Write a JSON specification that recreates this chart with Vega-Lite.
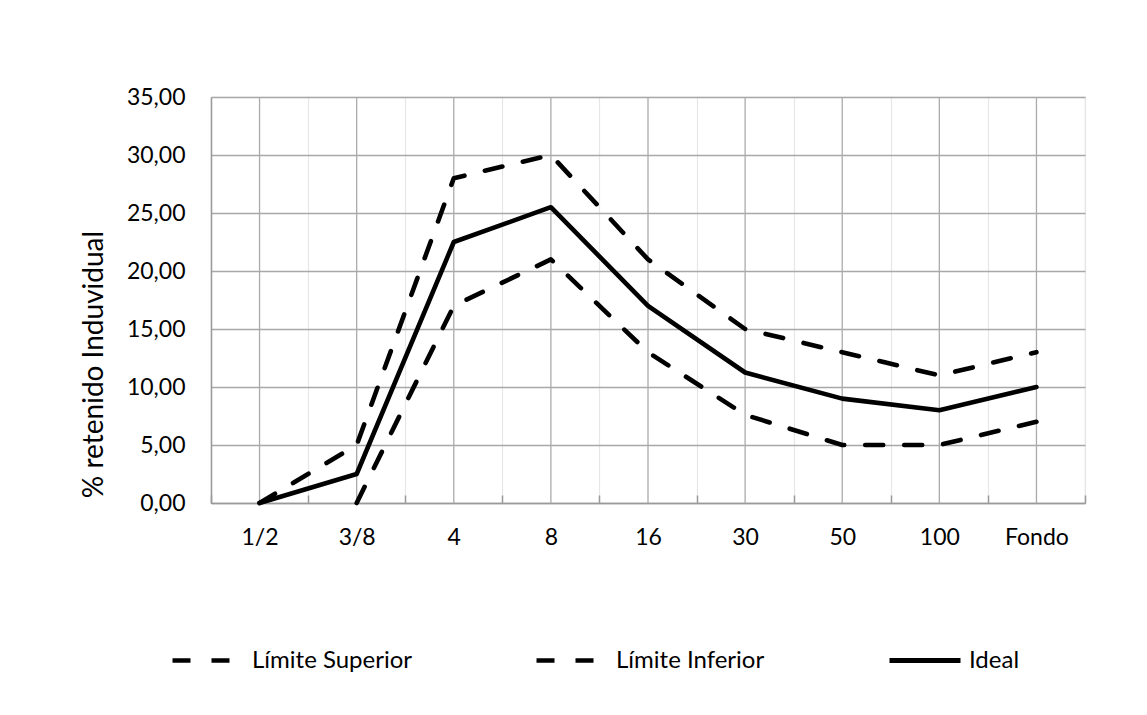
{
  "$schema": "https://vega.github.io/schema/vega-lite/v6.json",
  "autosize": "none",
  "width": 874,
  "height": 406,
  "padding": {"left": 211, "top": 97, "right": 62, "bottom": 212},
  "background": "white",
  "config": {
    "font": "Lato",
    "view": {"stroke": "#e2e2e2", "strokeWidth": 1.2},
    "legend": {"padding": 0, "labelLimit": 300}
  },
  "data": {
    "values": [
      {"tamiz": "1/2", "serie": "Límite Superior", "valor": 0},
      {"tamiz": "3/8", "serie": "Límite Superior", "valor": 5},
      {"tamiz": "4", "serie": "Límite Superior", "valor": 28},
      {"tamiz": "8", "serie": "Límite Superior", "valor": 30},
      {"tamiz": "16", "serie": "Límite Superior", "valor": 21},
      {"tamiz": "30", "serie": "Límite Superior", "valor": 15},
      {"tamiz": "50", "serie": "Límite Superior", "valor": 13},
      {"tamiz": "100", "serie": "Límite Superior", "valor": 11},
      {"tamiz": "Fondo", "serie": "Límite Superior", "valor": 13},
      {"tamiz": "3/8", "serie": "Límite Inferior", "valor": 0},
      {"tamiz": "4", "serie": "Límite Inferior", "valor": 17},
      {"tamiz": "8", "serie": "Límite Inferior", "valor": 21},
      {"tamiz": "16", "serie": "Límite Inferior", "valor": 13},
      {"tamiz": "30", "serie": "Límite Inferior", "valor": 7.6},
      {"tamiz": "50", "serie": "Límite Inferior", "valor": 5},
      {"tamiz": "100", "serie": "Límite Inferior", "valor": 5},
      {"tamiz": "Fondo", "serie": "Límite Inferior", "valor": 7},
      {"tamiz": "1/2", "serie": "Ideal", "valor": 0},
      {"tamiz": "3/8", "serie": "Ideal", "valor": 2.5},
      {"tamiz": "4", "serie": "Ideal", "valor": 22.5},
      {"tamiz": "8", "serie": "Ideal", "valor": 25.5},
      {"tamiz": "16", "serie": "Ideal", "valor": 17},
      {"tamiz": "30", "serie": "Ideal", "valor": 11.25},
      {"tamiz": "50", "serie": "Ideal", "valor": 9},
      {"tamiz": "100", "serie": "Ideal", "valor": 8},
      {"tamiz": "Fondo", "serie": "Ideal", "valor": 10}
    ]
  },
  "encoding": {
    "x": {
      "field": "tamiz",
      "type": "nominal",
      "sort": ["1/2", "3/8", "4", "8", "16", "30", "50", "100", "Fondo"],
      "scale": {"paddingInner": 0, "paddingOuter": 0},
      "axis": {
        "title": null,
        "tickBand": "extent",
        "grid": true,
        "gridColor": "#e6e6e6",
        "gridWidth": 1.2,
        "ticks": true,
        "tickSize": -8,
        "tickColor": "#9a9a9a",
        "tickWidth": 1.5,
        "domainColor": "#9a9a9a",
        "domainWidth": 1.5,
        "labelAngle": 0,
        "labelFontSize": 23,
        "labelColor": "black",
        "labelBaseline": "middle",
        "labelPadding": 42
      }
    }
  },
  "layer": [
    {
      "transform": [{"filter": "datum.serie === 'Ideal'"}],
      "mark": {"type": "rule", "color": "#ababab", "strokeWidth": 1.3},
      "encoding": {}
    },
    {
      "transform": [{"filter": "datum.serie !== 'Ideal'"}],
      "mark": {"type": "line", "color": "black", "strokeWidth": 4.6, "strokeCap": "round", "strokeJoin": "round"},
      "encoding": {
        "y": {
          "field": "valor",
          "type": "quantitative",
          "scale": {"domain": [0, 35], "nice": false},
          "axis": {
            "values": [0, 5, 10, 15, 20, 25, 30, 35],
            "labelExpr": "replace(format(datum.value, '.2f'), '.', ',')",
            "labelFontSize": 23,
            "labelColor": "black",
            "labelPadding": 26,
            "ticks": false,
            "grid": true,
            "gridColor": "#a8a8a8",
            "gridWidth": 1.3,
            "domainColor": "#9a9a9a",
            "domainWidth": 1.5,
            "title": "% retenido Induvidual",
            "titleFontSize": 28,
            "titleFontWeight": "normal",
            "titleColor": "black",
            "titleX": -103,
            "titleY": 267
          }
        },
        "strokeDash": {
          "field": "serie",
          "type": "nominal",
          "scale": {"domain": ["Límite Superior", "Límite Inferior"], "range": [[18, 21], [18, 21]]},
          "legend": {
            "title": null,
            "orient": "none",
            "direction": "horizontal",
            "legendX": -41,
            "legendY": 529.5,
            "symbolType": "stroke",
            "symbolSize": 3969,
            "symbolStrokeWidth": 4.6,
            "symbolStrokeColor": "black",
            "labelFontSize": 24,
            "labelColor": "black",
            "labelOffset": 14,
            "columnPadding": 114
          }
        },
        "order": {"value": null}
      }
    },
    {
      "transform": [{"filter": "datum.serie === 'Ideal'"}],
      "mark": {"type": "line", "strokeWidth": 4.6, "strokeCap": "round", "strokeJoin": "round"},
      "encoding": {
        "y": {"field": "valor", "type": "quantitative"},
        "color": {
          "field": "serie",
          "type": "nominal",
          "scale": {"domain": ["Ideal"], "range": ["black"]},
          "legend": {
            "title": null,
            "orient": "none",
            "legendX": 676,
            "legendY": 525.5,
            "symbolType": "stroke",
            "symbolSize": 5041,
            "symbolStrokeWidth": 4.8,
            "labelFontSize": 24,
            "labelColor": "black",
            "labelOffset": 6
          }
        },
        "order": {"value": null}
      }
    }
  ]
}
